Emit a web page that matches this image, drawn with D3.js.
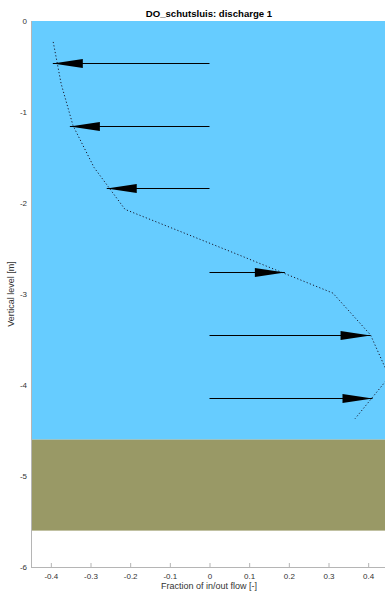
<!DOCTYPE html>
<html>
<head>
<meta charset="utf-8">
<script src="https://cdn.jsdelivr.net/npm/d3@7"></script>
<style>
  html, body { margin: 0; padding: 0; background: #fff; }
  svg { display: block; font-family: "Liberation Sans", Arial, Helvetica, sans-serif; }
</style>
</head>
<body>
<svg id="chart" width="385" height="592"></svg>
<script>
// Discharge per vertical layer (arrow tips) at each layer level [m]
const layerDepth = [-0.46, -1.15, -1.84, -2.76, -3.45, -4.14];
const layerFlow  = [-0.395, -0.352, -0.259, 0.190, 0.406, 0.411];

// Smoothed in/out flow profile (dotted line)
const profileDepth = [-0.23, -0.69, -1.15, -1.61, -2.07, -2.53, -2.99, -3.45, -3.91, -4.37];
const profileFlow  = [-0.394, -0.374, -0.344, -0.291, -0.213, 0.051, 0.311, 0.406, 0.453, 0.367];

// Water column and bed layer extents [m]
const waterTop = 0, waterBottom = -4.6;
const bedTop = -4.6, bedBottom = -5.6;

// Axes
const xDomain = [-0.45, 0.45];
const yDomain = [-6, 0];
const xTicks = [-0.4, -0.3, -0.2, -0.1, 0, 0.1, 0.2, 0.3, 0.4];
const xTickLabels = ["-0.4", "-0.3", "-0.2", "-0.1", "0", "0.1", "0.2", "0.3", "0.4"];
const yTicks = [0, -1, -2, -3, -4, -5, -6];
const yTickLabels = ["0", "-1", "-2", "-3", "-4", "-5", "-6"];

const titleText = "DO_schutsluis: discharge 1";
const xLabelText = "Fraction of in/out flow [-]";
const yLabelText = "Vertical level [m]";

const svg = d3.select("#chart");
const plotLeft = 31, plotRight = 388, plotTop = 21, plotBottom = 567;

const x = d3.scaleLinear().domain(xDomain).range([plotLeft, plotRight]);
const y = d3.scaleLinear().domain(yDomain).range([plotBottom, plotTop]);

const axisColor = "#b5b5b5";
const textColor = "#333";

// Axes (ticks point inward, drawn beneath the fills)
const gx = svg.append("g").attr("transform", `translate(0,${plotBottom})`)
  .call(d3.axisBottom(x).tickValues(xTicks).tickFormat((d, i) => xTickLabels[i]).tickSizeInner(-4).tickSizeOuter(0).tickPadding(6));
const gy = svg.append("g").attr("transform", `translate(${plotLeft},0)`)
  .call(d3.axisLeft(y).tickValues(yTicks).tickFormat((d, i) => yTickLabels[i]).tickSizeInner(-4).tickSizeOuter(0).tickPadding(4));

[gx, gy].forEach(g => {
  g.select(".domain").attr("stroke", axisColor).attr("stroke-width", 1);
  g.selectAll(".tick line").attr("stroke", axisColor);
  g.selectAll(".tick text").attr("fill", textColor).attr("font-size", "8px")
    .attr("font-family", "Liberation Sans, Arial, sans-serif");
});

// Water column and bed
svg.append("rect")
  .attr("x", x(xDomain[0]) + 0.5).attr("y", y(waterTop))
  .attr("width", x(xDomain[1]) - x(xDomain[0])).attr("height", y(waterBottom) - y(waterTop))
  .attr("fill", "#66ccff");
svg.append("rect")
  .attr("x", x(xDomain[0]) + 0.5).attr("y", y(bedTop))
  .attr("width", x(xDomain[1]) - x(xDomain[0])).attr("height", y(bedBottom) - y(bedTop))
  .attr("fill", "#999966");

// Dotted flow profile
const profile = profileDepth.map((d, i) => [profileFlow[i], d]);
svg.append("path")
  .datum(profile)
  .attr("d", d3.line().x(d => x(d[0])).y(d => y(d[1])))
  .attr("fill", "none")
  .attr("stroke", "#1a1a2e")
  .attr("stroke-width", 1)
  .attr("stroke-dasharray", "1.2,2.2");

// Arrows from zero to layer discharge
const headLen = 30, headHalf = 4.5;
const arrows = svg.append("g");
layerDepth.forEach((d, i) => {
  const x0 = x(0), x1 = x(layerFlow[i]), yy = Math.round(y(d)) + 0.5;
  const dir = Math.sign(x1 - x0);
  arrows.append("line")
    .attr("x1", x0).attr("y1", yy).attr("x2", x1).attr("y2", yy)
    .attr("stroke", "#000").attr("stroke-width", 1);
  const bx = x1 - dir * headLen;
  arrows.append("path")
    .attr("d", `M${x1},${yy}L${bx},${yy - headHalf}L${bx},${yy + headHalf}Z`)
    .attr("fill", "#000");
});

// Left axis line on top of the fills
svg.append("line")
  .attr("x1", plotLeft + 0.5).attr("x2", plotLeft + 0.5).attr("y1", plotTop).attr("y2", plotBottom)
  .attr("stroke", axisColor).attr("stroke-width", 1);

// Titles
svg.append("text")
  .attr("x", 209).attr("y", 16.5)
  .attr("text-anchor", "middle")
  .attr("font-size", "9.6px").attr("font-weight", "bold").attr("fill", "#000")
  .text(titleText);

svg.append("text")
  .attr("x", 209).attr("y", 589)
  .attr("text-anchor", "middle")
  .attr("font-size", "9px").attr("fill", textColor)
  .text(xLabelText);

svg.append("text")
  .attr("transform", `translate(14,${(plotTop + plotBottom) / 2}) rotate(-90)`)
  .attr("text-anchor", "middle")
  .attr("font-size", "9px").attr("fill", textColor)
  .text(yLabelText);
</script>
</body>
</html>
